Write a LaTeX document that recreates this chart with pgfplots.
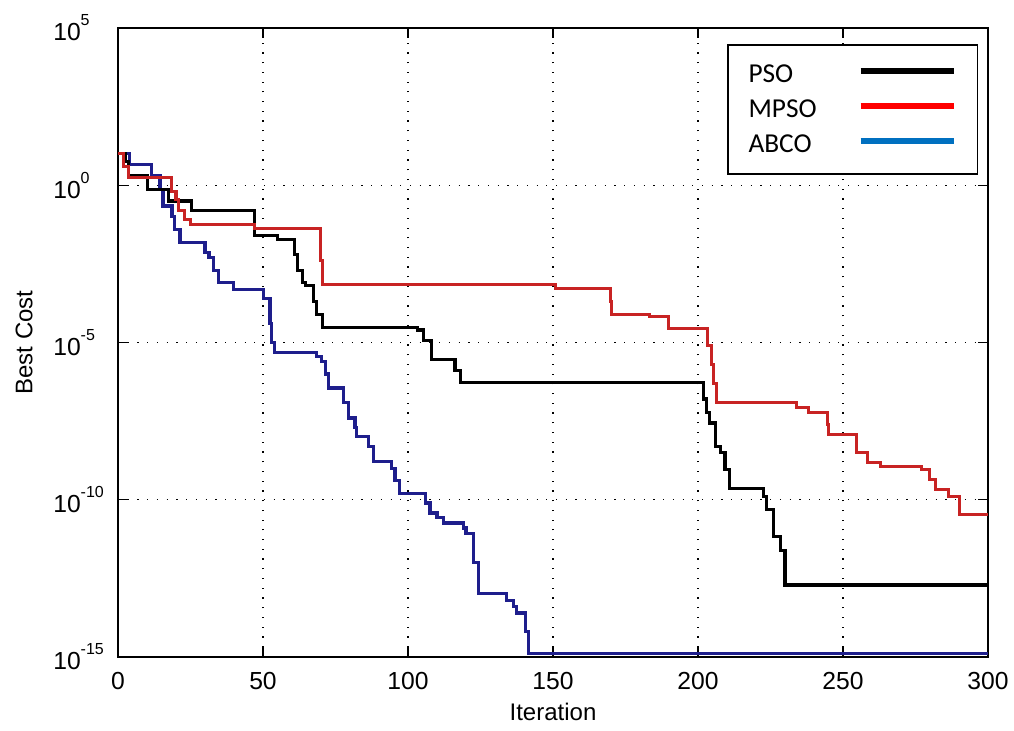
\documentclass[border=0pt]{standalone}
\usepackage{pgfplots}
\pgfplotsset{compat=1.18}
\usepackage{fontspec}
\setmainfont{Liberation Sans}
\newfontfamily\carlito{Carlito}
\definecolor{pso}{RGB}{0,0,0}
\definecolor{mpso}{RGB}{200,35,35}
\definecolor{abco}{RGB}{30,30,140}
\definecolor{legred}{RGB}{255,0,0}
\definecolor{legblue}{RGB}{0,112,192}
\newcommand{\tl}[1]{10\rlap{\raisebox{0.6em}{\fontsize{12}{12}\selectfont #1}}}
\begin{document}
\begin{tikzpicture}
\begin{axis}[name=ax, scale only axis, width=652.5pt, height=471.75pt,
  xmin=0, xmax=300, ymode=log, ymin=1e-15, ymax=1e5,
  xtick={0,50,100,150,200,250,300}, xticklabels={0,50,100,150,200,250,300},
  ytick={1e-15,1e-10,1e-5,1,1e5},
  yticklabels={\tl{-15},\tl{-10},\tl{-5},\tl{0},\tl{5}},
  grid=major, grid style={black, line width=0.9pt, dash pattern=on 0.9pt off 6.4pt},
  tick align=inside, tick pos=both, major tick length=7.5pt, minor tick length=0pt,
  axis line style={line width=1.1pt}, every tick/.style={black, line width=0.9pt},
  tick label style={font=\fontsize{18.5}{20}\selectfont},
  yticklabel style={anchor=east, inner sep=0pt, xshift=-27.75pt},
  xticklabel style={anchor=north, inner sep=0pt, yshift=-11pt},
  xlabel={Iteration}, ylabel={Best Cost},
  label style={font=\fontsize{18}{20}\selectfont},
  xlabel style={at={(axis description cs:0.5,0)}, anchor=north, inner sep=0pt, yshift=-34.5pt},
  ylabel style={at={(axis description cs:0,0.5)}, anchor=center, inner sep=0pt, yshift=70.5pt},
  legend style={at={(0.7,0.9746)}, anchor=north west, draw=black, line width=1.3pt, fill=white,
    font=\carlito\fontsize{20.5}{22}\selectfont, inner xsep=15.5pt, inner ysep=15pt,
    row sep=11.3pt, column sep=0pt, nodes={inner sep=0pt}},
  legend plot pos=right, legend cell align=left,
  legend image code/.code={\draw[#1, line width=4.5pt] (0pt,2.5pt) -- (70pt,2.5pt);},
]
\addplot[const plot, color=abco, line width=2.4pt, forget plot] coordinates {
(0,10) (4.1,4.7) (11.6,2.0) (14.5,0.74) (15.5,0.22) (18.6,0.1) (19.5,0.04) (21.4,0.0151)
(30,7.2e-3) (31.4,5.0e-3) (33,2.0e-3) (34.6,7.9e-4) (39.7,4.9e-4) (50.1,2.5e-4)
(52.4,4.0e-5) (53,1.0e-5) (54.1,4.7e-6) (68.5,3.55e-6) (70.3,2.5e-6) (71.5,1.0e-6)
(72.5,3.6e-7) (77.7,1.26e-7) (79.4,4.0e-8) (81.7,2.0e-8) (82.3,1.05e-8) (86.3,5.0e-9)
(88,1.66e-9) (94.4,1.0e-9) (95.5,4.0e-10) (97.2,1.62e-10) (105.9,7.9e-11) (107.6,3.8e-11)
(110,2.8e-11) (112.2,1.82e-11) (119.1,1.26e-11) (120,8.7e-12) (122.6,1.0e-12)
(124.3,1.07e-13) (134,6.3e-14) (136.3,4.0e-14) (137.5,2.5e-14) (140.5,6.3e-15)
(141.5,1.32e-15) (300,1.32e-15)};
\addplot[const plot, color=pso, line width=2.3pt, forget plot] coordinates {
(0,10) (2.5,5.75) (3.7,2.0) (10.3,0.74) (17.5,0.316) (25.4,0.162) (47,0.0245)
(55,0.019) (61,6.3e-3) (62,2.0e-3) (63.5,7.9e-4) (64.5,6.3e-4) (67.3,2.0e-4)
(68.5,7.9e-5) (70.5,2.95e-5) (103.4,2.5e-5) (105.5,1.12e-5) (108.2,2.9e-6)
(116.2,1.26e-6) (118,5.4e-7) (202,1.6e-7) (203,5.8e-8) (204.1,2.75e-8) (205.9,5.0e-9)
(207.6,3.1e-9) (209.3,9.1e-10) (211,2.3e-10) (222.5,1.26e-10) (223.7,4.8e-11)
(226,6.8e-12) (228.3,2.5e-12) (230,1.95e-13) (300,1.95e-13)};
\addplot[const plot, color=mpso, line width=2.3pt, forget plot] coordinates {
(0,10) (2,3.98) (3.5,1.78) (18.6,0.63) (20,0.355) (21,0.158) (23,0.079) (25,0.0575)
(47,0.0427) (69.7,3.98e-3) (70.5,6.76e-4) (151,5.13e-4) (169.7,2.0e-4) (170.3,7.9e-5)
(183.4,6.6e-5) (189.7,2.75e-5) (203.4,7.9e-6) (204.5,2.0e-6) (205.5,5.0e-7)
(206.4,1.26e-7) (234,8.5e-8) (238,5.9e-8) (244.5,2.5e-8) (245,1.17e-8) (254.5,3.16e-9)
(258.5,1.51e-9) (263,1.15e-9) (277,9.1e-10) (279.8,4.4e-10) (282,2.1e-10)
(286.4,1.29e-10) (290.3,3.3e-11) (300,3.3e-11)};
\addlegendimage{color=pso}
\addlegendentry{\makebox[81.75pt][l]{\rule{0pt}{13pt}PSO}}
\addlegendimage{color=legred}
\addlegendentry{\makebox[81.75pt][l]{\rule{0pt}{13pt}MPSO}}
\addlegendimage{color=legblue}
\addlegendentry{\makebox[81.75pt][l]{\rule{0pt}{13pt}ABCO}}
\end{axis}
\pgfresetboundingbox
\path[use as bounding box] ([shift={(-88.5pt,-55.5pt)}]ax.south west) rectangle ([shift={(19.5pt,21pt)}]ax.north east);
\end{tikzpicture}
\end{document}
